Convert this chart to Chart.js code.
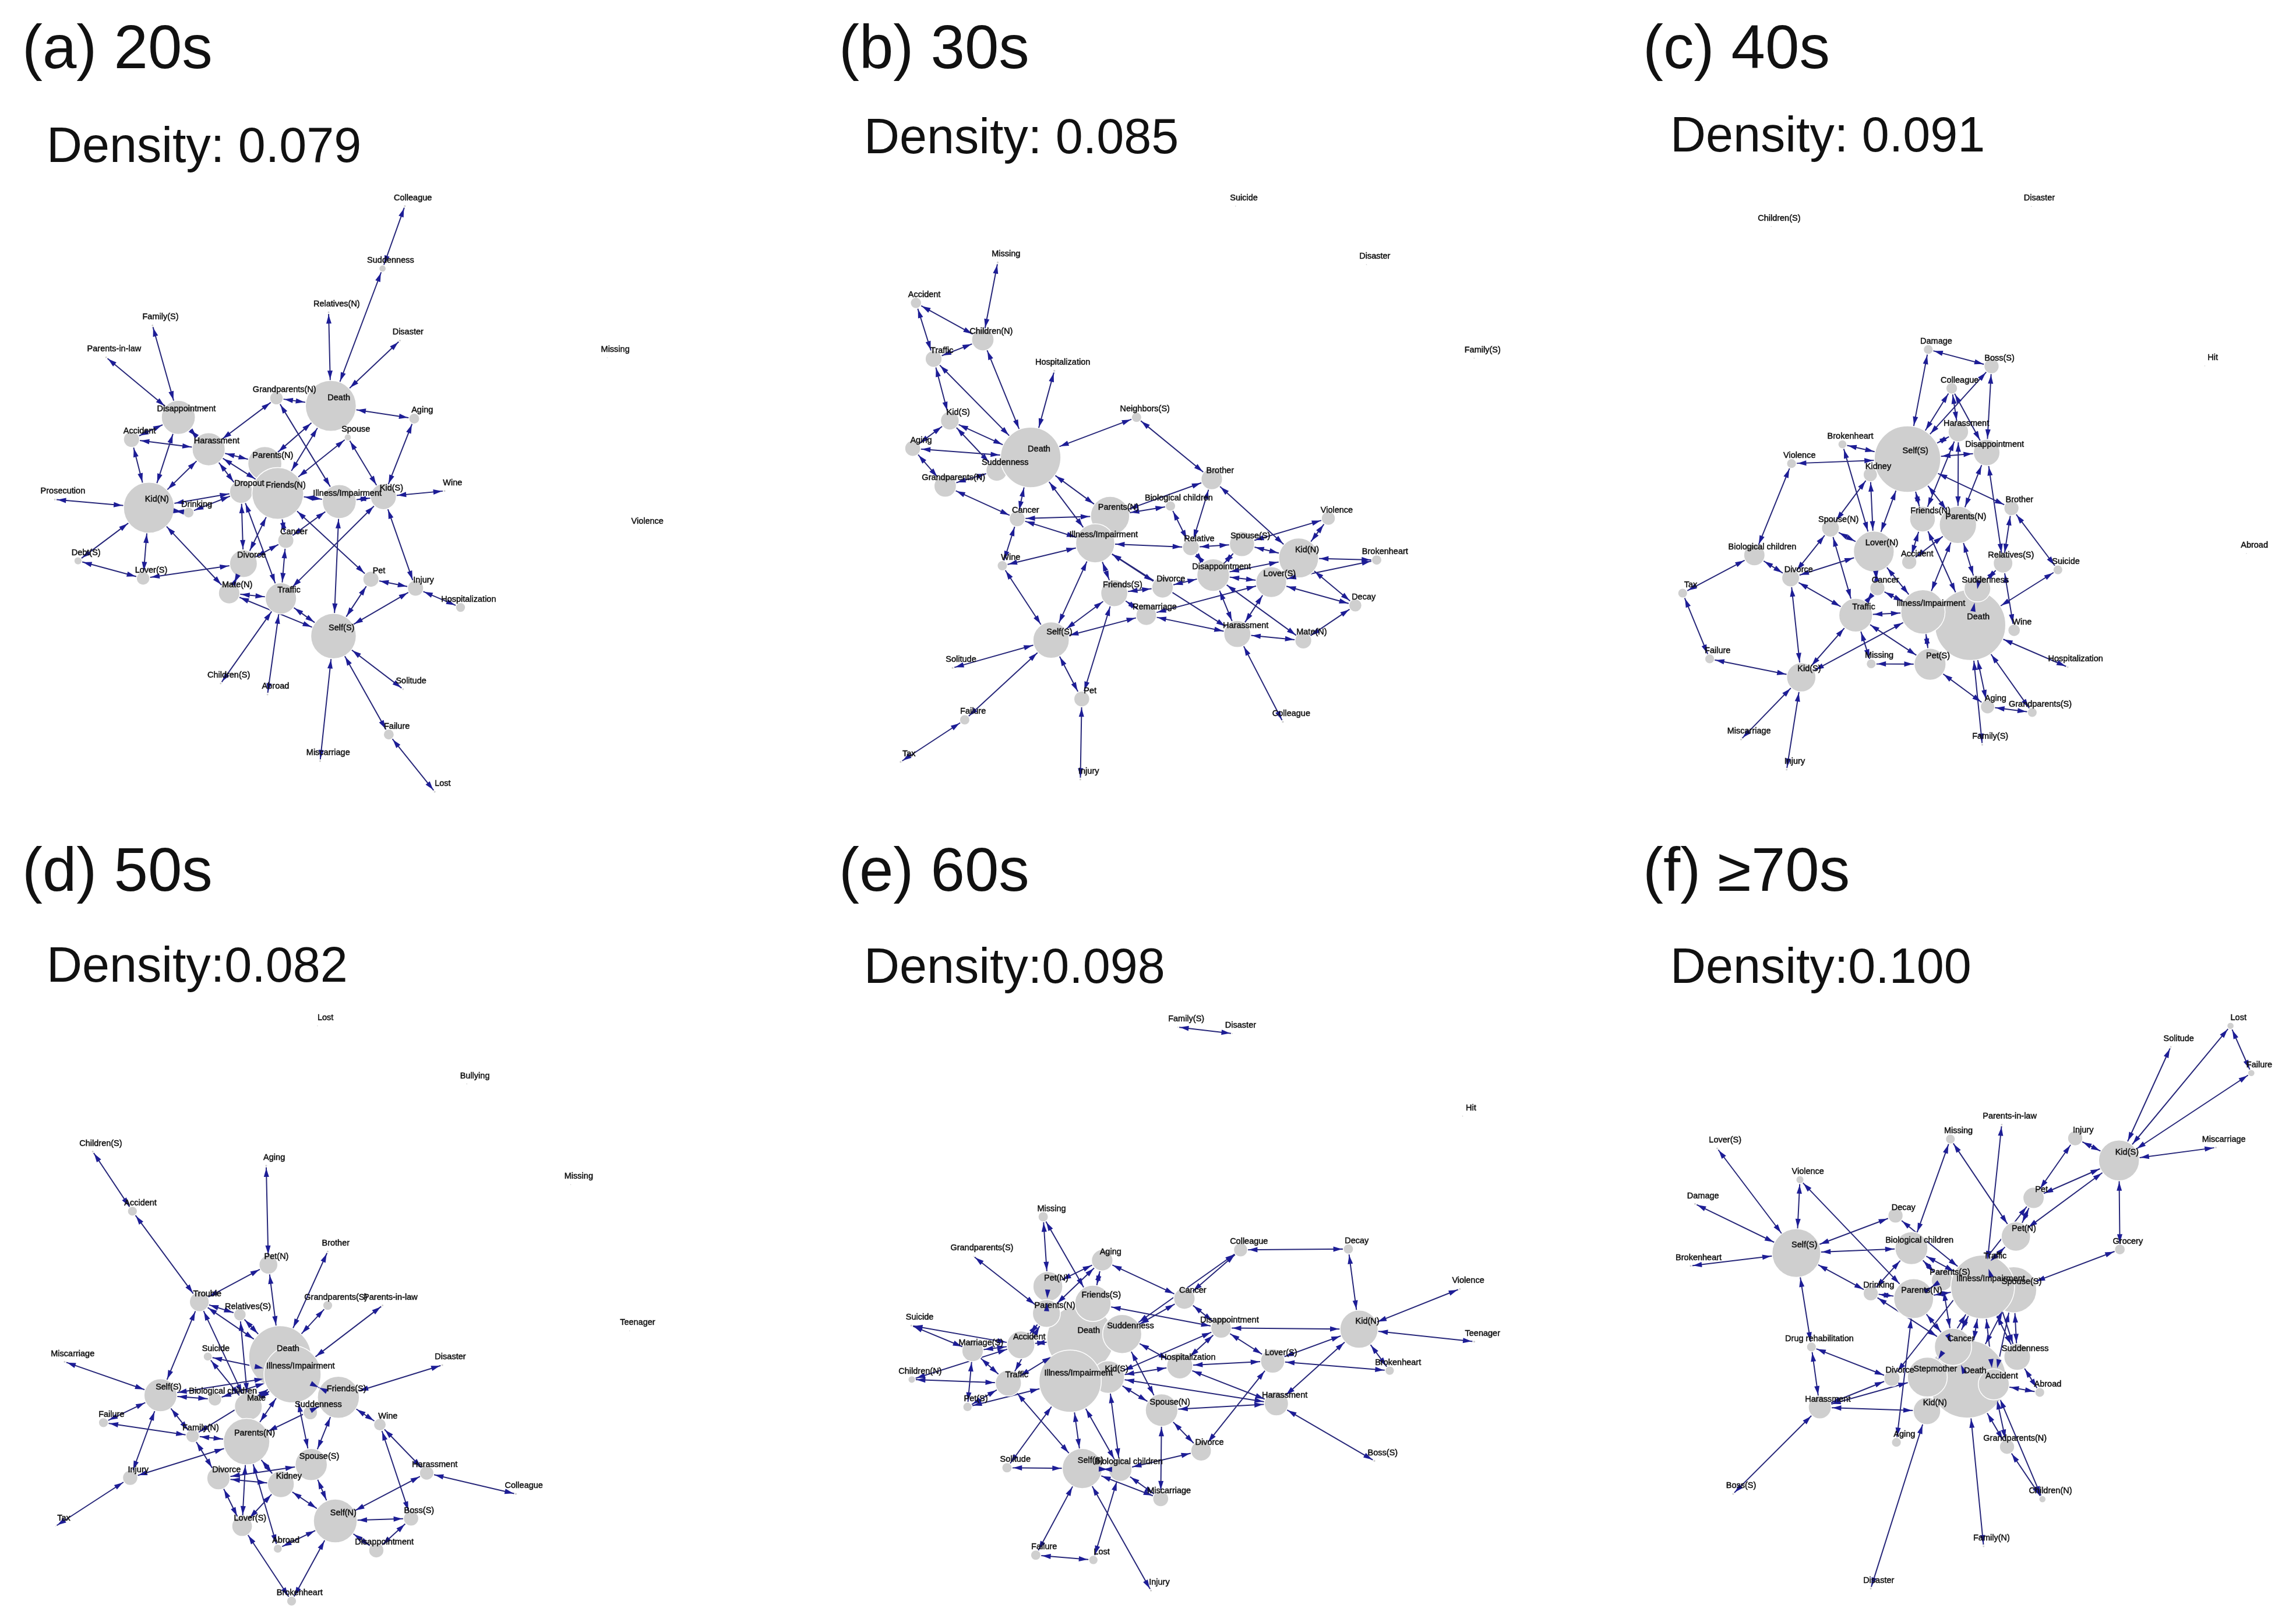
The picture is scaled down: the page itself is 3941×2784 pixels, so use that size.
<!DOCTYPE html>
<html>
<head>
<meta charset="utf-8">
<script src="https://cdn.jsdelivr.net/npm/chart.js@4"></script>
<style>
  body { margin: 0; background: #fff; width: 3941px; height: 2784px; position: relative; overflow: hidden; }
  canvas { position: absolute; }
  .txt { position: absolute; font-family: "Liberation Sans", Arial, sans-serif; color: #111; line-height: 1; white-space: nowrap; }
</style>
</head>
<body>
<script>
// ---- text ----
const panelTitles = ["(a) 20s", "(b) 30s", "(c) 40s", "(d) 50s", "(e) 60s", "(f) ≥70s"];
const densityLabels = ["Density: 0.079", "Density: 0.085", "Density: 0.091", "Density:0.082", "Density:0.098", "Density:0.100"];

// ---- networks: [label, layout x, layout y, node weight] ----
const nodesA = [
  ["Colleague",908,105,3],["Suddenness",858,258,8],["Relatives(N)",737,365,3],["Disaster",897,434,3],["Family(S)",342,397,3],
  ["Parents-in-law",238,475,3],["Grandparents(N)",620,575,15],["Death",742,594,57],["Aging",929,625,12],["Spouse",780,671,8],
  ["Disappointment",400,622,38],["Accident",295,676,18],["Harassment",468,700,37],["Parents(N)",594,735,38],["Dropout",541,804,26],
  ["Friends(N)",623,808,58],["Illness/Impairment",761,828,38],["Kid(S)",860,816,29],["Wine",997,802,3],["Kid(N)",334,843,57],
  ["Drinking",423,855,12],["Prosecution",123,823,3],["Cancer",641,923,18],["Debt(S)",175,973,9],["Divorce",546,980,31],
  ["Lover(S)",321,1016,15],["Mate(N)",514,1052,24],["Traffic",630,1065,35],["Pet",832,1018,18],["Injury",932,1040,18],
  ["Hospitalization",1033,1087,11],["Self(S)",748,1157,51],["Children(S)",495,1273,3],["Abroad",600,1300,3],["Solitude",904,1287,3],
  ["Failure",872,1398,12],["Miscarriage",718,1463,3],["Lost",975,1538,3],["Missing",1362,476,2],["Violence",1434,896,2]
];
const edgesA = [
  ["Colleague","Suddenness"],["Suddenness","Death"],["Relatives(N)","Death"],["Disaster","Death"],["Family(S)","Disappointment"],
  ["Parents-in-law","Disappointment"],["Grandparents(N)","Death"],["Grandparents(N)","Harassment"],["Grandparents(N)","Illness/Impairment"],
  ["Aging","Death"],["Aging","Kid(S)"],["Spouse","Kid(S)"],["Spouse","Friends(N)"],["Disappointment","Accident"],["Disappointment","Harassment"],
  ["Disappointment","Kid(N)"],["Accident","Harassment"],["Accident","Kid(N)"],["Harassment","Kid(N)"],["Harassment","Parents(N)"],
  ["Harassment","Friends(N)"],["Harassment","Dropout"],["Parents(N)","Death"],["Friends(N)","Death"],["Friends(N)","Illness/Impairment"],
  ["Illness/Impairment","Kid(S)"],["Friends(N)","Divorce"],["Friends(N)","Pet"],["Friends(N)","Cancer"],["Dropout","Kid(N)"],["Dropout","Divorce"],
  ["Dropout","Traffic"],["Drinking","Kid(N)"],["Drinking","Dropout"],["Kid(N)","Prosecution"],["Kid(N)","Debt(S)"],["Kid(N)","Lover(S)"],
  ["Kid(N)","Mate(N)"],["Lover(S)","Debt(S)"],["Lover(S)","Divorce"],["Divorce","Cancer"],["Cancer","Illness/Impairment"],["Cancer","Traffic"],
  ["Traffic","Kid(S)"],["Illness/Impairment","Self(S)"],["Kid(S)","Wine"],["Kid(S)","Injury"],["Injury","Pet"],["Injury","Self(S)"],
  ["Injury","Hospitalization"],["Pet","Self(S)"],["Traffic","Self(S)"],["Mate(N)","Self(S)"],["Traffic","Children(S)"],["Traffic","Abroad"],
  ["Self(S)","Solitude"],["Self(S)","Failure"],["Self(S)","Miscarriage"],["Failure","Lost"],["Mate(N)","Divorce"],["Mate(N)","Traffic"]
];

const nodesB = [
  ["Suicide",904,105,2],["Missing",392,243,3],["Disaster",1186,248,2],["Family(S)",1418,477,2],["Accident",216,342,12],["Children(N)",360,432,24],
  ["Traffic",254,479,18],["Hospitalization",514,508,3],["Neighbors(S)",691,622,11],["Kid(S)",289,630,20],["Aging",209,698,17],["Suddenness",390,752,23],
  ["Death",463,720,65],["Grandparents(N)",279,790,24],["Brother",853,773,23],["Biological children",764,839,11],["Parents(N)",634,863,42],
  ["Cancer",434,870,17],["Illness/Impairment",602,930,42],["Relative",808,940,18],["Spouse(S)",918,932,27],["Kid(N)",1040,966,43],["Violence",1104,869,15],
  ["Brokenheart",1208,971,11],["Wine",402,985,11],["Lover(S)",981,1025,33],["Disappointment",856,1008,35],["Divorce",747,1038,23],["Friends(S)",643,1052,29],
  ["Decay",1162,1082,14],["Remarriage",712,1106,22],["Harassment",908,1152,29],["Mate(N)",1050,1168,18],["Self(S)",507,1167,39],["Solitude",295,1235,3],
  ["Failure",321,1362,11],["Pet",573,1311,17],["Colleague",1006,1367,3],["Tax",183,1465,3],["Injury",570,1508,3]
];
const edgesB = [
  ["Missing","Children(N)"],["Accident","Children(N)"],["Accident","Traffic"],["Traffic","Children(N)"],["Traffic","Kid(S)"],["Traffic","Death"],
  ["Children(N)","Death"],["Hospitalization","Death"],["Neighbors(S)","Death"],["Neighbors(S)","Brother"],["Kid(S)","Aging"],["Kid(S)","Death"],
  ["Kid(S)","Suddenness"],["Aging","Death"],["Aging","Grandparents(N)"],["Grandparents(N)","Suddenness"],["Grandparents(N)","Cancer"],["Death","Cancer"],
  ["Death","Parents(N)"],["Death","Illness/Impairment"],["Brother","Parents(N)"],["Brother","Relative"],["Brother","Kid(N)"],["Cancer","Illness/Impairment"],
  ["Cancer","Parents(N)"],["Cancer","Wine"],["Wine","Illness/Impairment"],["Wine","Self(S)"],["Parents(N)","Biological children"],["Illness/Impairment","Relative"],
  ["Relative","Biological children"],["Relative","Spouse(S)"],["Relative","Disappointment"],["Spouse(S)","Kid(N)"],["Spouse(S)","Disappointment"],["Spouse(S)","Violence"],
  ["Kid(N)","Violence"],["Kid(N)","Brokenheart"],["Kid(N)","Decay"],["Kid(N)","Disappointment"],["Lover(S)","Brokenheart"],["Lover(S)","Decay"],
  ["Lover(S)","Disappointment"],["Lover(S)","Harassment"],["Lover(S)","Remarriage"],["Illness/Impairment","Divorce"],["Illness/Impairment","Friends(S)"],
  ["Illness/Impairment","Self(S)"],["Illness/Impairment","Harassment"],["Divorce","Disappointment"],["Divorce","Friends(S)"],["Friends(S)","Remarriage"],
  ["Friends(S)","Self(S)"],["Friends(S)","Pet"],["Remarriage","Self(S)"],["Remarriage","Harassment"],["Disappointment","Harassment"],["Disappointment","Mate(N)"],
  ["Harassment","Mate(N)"],["Mate(N)","Decay"],["Self(S)","Solitude"],["Self(S)","Failure"],["Self(S)","Pet"],["Failure","Tax"],["Pet","Injury"],["Harassment","Colleague"]
];

const nodesC = [
  ["Disaster",970,106,2],["Children(S)",382,155,2],["Damage",737,456,11],["Boss(S)",880,497,17],["Hit",1362,496,2],["Colleague",790,551,13],
  ["Harassment",805,657,23],["Disappointment",869,708,30],["Brokenheart",543,688,10],["Kidney",606,762,16],["Self(S)",690,724,75],["Violence",428,735,11],
  ["Brother",925,844,17],["Friends(N)",724,871,29],["Parents(N)",804,885,42],["Spouse(N)",516,893,20],["Lover(N)",614,950,46],["Biological children",344,959,24],
  ["Accident",694,976,17],["Relatives(S)",906,979,22],["Suicide",1030,995,11],["Abroad",1456,955,2],["Divorce",426,1015,20],["Tax",182,1052,11],["Cancer",622,1040,17],
  ["Death",832,1130,80],["Suddenness",848,1041,30],["Illness/Impairment",725,1098,50],["Traffic",573,1106,38],["Wine",931,1143,14],["Failure",243,1213,11],
  ["Pet(S)",741,1226,36],["Missing",608,1225,11],["Kid(S)",450,1258,33],["Hospitalization",1052,1233,3],["Aging",871,1330,16],["Grandparents(S)",972,1344,11],
  ["Miscarriage",314,1410,3],["Family(S)",859,1423,3],["Injury",417,1484,3]
];
const edgesC = [
  ["Damage","Boss(S)"],["Damage","Self(S)"],["Boss(S)","Disappointment"],["Boss(S)","Self(S)"],["Colleague","Self(S)"],["Colleague","Harassment"],
  ["Colleague","Disappointment"],["Harassment","Self(S)"],["Harassment","Friends(N)"],["Harassment","Parents(N)"],["Disappointment","Self(S)"],
  ["Disappointment","Parents(N)"],["Disappointment","Relatives(S)"],["Brokenheart","Self(S)"],["Brokenheart","Lover(N)"],["Violence","Self(S)"],
  ["Violence","Biological children"],["Kidney","Lover(N)"],["Kidney","Spouse(N)"],["Self(S)","Brother"],["Self(S)","Friends(N)"],["Self(S)","Parents(N)"],
  ["Self(S)","Lover(N)"],["Brother","Relatives(S)"],["Brother","Suicide"],["Friends(N)","Accident"],["Friends(N)","Death"],["Parents(N)","Accident"],
  ["Parents(N)","Suddenness"],["Parents(N)","Illness/Impairment"],["Spouse(N)","Lover(N)"],["Spouse(N)","Divorce"],["Spouse(N)","Traffic"],["Lover(N)","Divorce"],
  ["Lover(N)","Cancer"],["Lover(N)","Illness/Impairment"],["Biological children","Divorce"],["Biological children","Tax"],["Relatives(S)","Suddenness"],
  ["Relatives(S)","Wine"],["Suicide","Death"],["Divorce","Traffic"],["Divorce","Kid(S)"],["Tax","Failure"],["Cancer","Illness/Impairment"],["Cancer","Traffic"],
  ["Traffic","Illness/Impairment"],["Traffic","Pet(S)"],["Traffic","Kid(S)"],["Traffic","Missing"],["Illness/Impairment","Kid(S)"],["Illness/Impairment","Pet(S)"],
  ["Failure","Kid(S)"],["Missing","Pet(S)"],["Pet(S)","Aging"],["Kid(S)","Miscarriage"],["Kid(S)","Injury"],["Death","Hospitalization"],["Death","Aging"],
  ["Death","Grandparents(S)"],["Death","Family(S)"],["Aging","Grandparents(S)"],["Suddenness","Death"]
];

const nodesD = [
  ["Lost",712,88,2],["Bullying",1047,232,2],["Missing",1280,482,2],["Teenager",1412,845,2],["Children(S)",208,400,3],["Aging",597,435,3],["Accident",297,548,11],
  ["Pet(N)",602,681,21],["Brother",735,648,3],["Grandparents(S)",735,782,11],["Parents-in-law",858,782,3],["Trouble",447,773,22],["Relatives(S)",538,805,14],
  ["Suicide",466,909,10],["Death",628,910,70],["Illness/Impairment",656,953,64],["Miscarriage",145,922,3],["Disaster",992,930,3],["Self(S)",360,1005,37],
  ["Biological children",482,1015,15],["Mate",557,1033,31],["Suddenness",696,1048,16],["Friends(S)",759,1010,47],["Failure",232,1073,11],["Wine",852,1078,14],
  ["Family(N)",432,1106,15],["Parents(N)",553,1120,52],["Injury",292,1210,17],["Spouse(S)",698,1177,36],["Divorce",490,1211,26],["Kidney",630,1226,30],
  ["Harassment",957,1198,16],["Colleague",1157,1250,3],["Boss(S)",922,1311,17],["Self(N)",752,1317,49],["Lover(S)",543,1330,23],["Abroad",623,1386,10],
  ["Disappointment",844,1390,17],["Tax",125,1330,2],["Brokenheart",654,1516,11]
];
const edgesD = [
  ["Children(S)","Accident"],["Accident","Trouble"],["Aging","Pet(N)"],["Pet(N)","Death"],["Pet(N)","Trouble"],["Brother","Death"],["Grandparents(S)","Death"],
  ["Parents-in-law","Illness/Impairment"],["Trouble","Relatives(S)"],["Trouble","Death"],["Trouble","Self(S)"],["Trouble","Mate"],["Relatives(S)","Death"],
  ["Relatives(S)","Mate"],["Suicide","Mate"],["Suicide","Illness/Impairment"],["Miscarriage","Self(S)"],["Disaster","Friends(S)"],["Self(S)","Biological children"],
  ["Self(S)","Illness/Impairment"],["Self(S)","Failure"],["Self(S)","Family(N)"],["Self(S)","Injury"],["Biological children","Illness/Impairment"],
  ["Mate","Illness/Impairment"],["Illness/Impairment","Parents(N)"],["Illness/Impairment","Spouse(S)"],["Illness/Impairment","Friends(S)"],["Friends(S)","Wine"],
  ["Friends(S)","Spouse(S)"],["Friends(S)","Parents(N)"],["Failure","Family(N)"],["Family(N)","Illness/Impairment"],["Family(N)","Parents(N)"],["Family(N)","Divorce"],
  ["Parents(N)","Injury"],["Parents(N)","Kidney"],["Parents(N)","Lover(S)"],["Parents(N)","Abroad"],["Wine","Harassment"],["Wine","Boss(S)"],["Harassment","Colleague"],
  ["Harassment","Self(N)"],["Injury","Tax"],["Divorce","Kidney"],["Divorce","Spouse(S)"],["Divorce","Lover(S)"],["Kidney","Self(N)"],["Kidney","Lover(S)"],
  ["Spouse(S)","Self(N)"],["Boss(S)","Self(N)"],["Boss(S)","Disappointment"],["Self(N)","Disappointment"],["Self(N)","Abroad"],["Self(N)","Brokenheart"],["Lover(S)","Brokenheart"]
];

const nodesE = [
  ["Family(S)",780,91,2],["Disaster",897,107,2],["Hit",1393,312,2],["Missing",490,562,11],["Colleague",915,644,15],["Decay",1147,642,11],["Grandparents(S)",340,660,2],
  ["Aging",617,670,23],["Pet(N)",500,735,32],["Cancer",794,765,23],["Death",570,865,72],["Parents(N)",497,802,30],["Friends(S)",597,777,39],["Violence",1387,741,3],
  ["Disappointment",873,838,22],["Suddenness",660,853,42],["Kid(N)",1170,841,41],["Suicide",206,832,3],["Marriage(S)",338,895,23],["Accident",442,880,30],
  ["Teenager",1418,872,3],["Hospitalization",784,932,28],["Lover(S)",984,920,26],["Brokenheart",1236,944,10],["Children(N)",207,966,8],["Traffic",415,975,28],
  ["Kid(S)",630,960,35],["Illness/Impairment",548,970,67],["Harassment",992,1026,26],["Pet(S)",327,1034,10],["Spouse(N)",745,1042,35],["Divorce",830,1143,22],
  ["Boss(S)",1203,1168,3],["Solitude",412,1185,11],["Self(S)",574,1187,43],["Biological children",656,1190,25],["Miscarriage",743,1262,17],["Failure",474,1402,11],
  ["Lost",598,1414,10],["Injury",722,1490,3]
];
const edgesE = [
  ["Family(S)","Disaster"],["Missing","Pet(N)"],["Missing","Friends(S)"],["Colleague","Decay"],["Colleague","Cancer"],["Colleague","Suddenness"],["Decay","Kid(N)"],
  ["Grandparents(S)","Parents(N)"],["Aging","Pet(N)"],["Aging","Parents(N)"],["Aging","Friends(S)"],["Aging","Cancer"],["Pet(N)","Parents(N)"],["Cancer","Disappointment"],
  ["Cancer","Suddenness"],["Disappointment","Friends(S)"],["Disappointment","Kid(N)"],["Disappointment","Lover(S)"],["Disappointment","Hospitalization"],["Disappointment","Kid(S)"],
  ["Parents(N)","Accident"],["Parents(N)","Traffic"],["Death","Accident"],["Death","Traffic"],["Suicide","Marriage(S)"],["Suicide","Accident"],["Marriage(S)","Accident"],
  ["Marriage(S)","Pet(S)"],["Marriage(S)","Traffic"],["Children(N)","Accident"],["Children(N)","Traffic"],["Traffic","Pet(S)"],["Pet(S)","Illness/Impairment"],["Traffic","Self(S)"],
  ["Illness/Impairment","Solitude"],["Illness/Impairment","Self(S)"],["Illness/Impairment","Biological children"],["Kid(S)","Hospitalization"],["Kid(S)","Harassment"],
  ["Kid(S)","Spouse(N)"],["Kid(S)","Biological children"],["Suddenness","Hospitalization"],["Suddenness","Spouse(N)"],["Hospitalization","Lover(S)"],["Hospitalization","Harassment"],
  ["Spouse(N)","Harassment"],["Spouse(N)","Divorce"],["Spouse(N)","Miscarriage"],["Kid(N)","Violence"],["Kid(N)","Teenager"],["Kid(N)","Brokenheart"],["Kid(N)","Lover(S)"],
  ["Kid(N)","Harassment"],["Lover(S)","Brokenheart"],["Lover(S)","Divorce"],["Harassment","Boss(S)"],["Self(S)","Solitude"],["Self(S)","Biological children"],["Self(S)","Failure"],
  ["Self(S)","Injury"],["Self(S)","Miscarriage"],["Biological children","Miscarriage"],["Biological children","Divorce"],["Biological children","Lost"],["Failure","Lost"]
];

const nodesF = [
  ["Lost",1420,88,8],["Solitude",1285,140,3],["Failure",1467,205,8],["Parents-in-law",903,333,3],["Missing",787,369,11],["Injury",1069,367,17],["Miscarriage",1387,390,3],
  ["Lover(S)",260,392,3],["Kid(S)",1168,422,46],["Violence",447,470,9],["Damage",210,530,3],["Decay",663,559,17],["Pet",975,515,24],["Pet(N)",935,611,33],["Self(S)",439,652,55],
  ["Biological children",699,640,37],["Brokenheart",200,684,3],["Grocery",1170,643,12],["Traffic",870,680,8],["Parents(S)",768,720,24],["Spouse(S)",930,743,52],
  ["Illness/Impairment",860,736,72],["Drinking",607,752,17],["Parents(N)",704,765,45],["Death",825,965,88],["Cancer",793,885,42],["Suddenness",938,910,30],
  ["Drug rehabilitation",473,885,11],["Divorce",655,963,18],["Stepmother",735,960,45],["Accident",885,978,35],["Abroad",989,998,11],["Harassment",492,1035,26],
  ["Kid(N)",734,1044,31],["Aging",665,1122,11],["Grandparents(N)",915,1133,17],["Boss(S)",296,1250,3],["Children(N)",995,1263,8],["Family(N)",862,1380,3],["Disaster2",607,1485,3]
];
const edgesF = [
  ["Lost","Kid(S)"],["Lost","Failure"],["Solitude","Kid(S)"],["Failure","Kid(S)"],["Parents-in-law","Traffic"],["Missing","Biological children"],["Missing","Pet(N)"],
  ["Injury","Kid(S)"],["Injury","Pet"],["Miscarriage","Kid(S)"],["Lover(S)","Self(S)"],["Violence","Self(S)"],["Violence","Parents(N)"],["Damage","Self(S)"],["Decay","Self(S)"],
  ["Decay","Illness/Impairment"],["Pet","Kid(S)"],["Pet","Pet(N)"],["Pet(N)","Kid(S)"],["Pet(N)","Traffic"],["Self(S)","Brokenheart"],["Self(S)","Biological children"],
  ["Self(S)","Drinking"],["Self(S)","Drug rehabilitation"],["Biological children","Drinking"],["Biological children","Parents(S)"],["Biological children","Illness/Impairment"],
  ["Kid(S)","Grocery"],["Grocery","Spouse(S)"],["Drinking","Parents(N)"],["Parents(S)","Parents(N)"],["Parents(N)","Illness/Impairment"],["Parents(N)","Cancer"],
  ["Parents(N)","Aging"],["Illness/Impairment","Cancer"],["Illness/Impairment","Suddenness"],["Illness/Impairment","Death"],["Spouse(S)","Suddenness"],["Cancer","Death"],
  ["Spouse(S)","Death"],["Accident","Illness/Impairment"],["Drug rehabilitation","Divorce"],["Drug rehabilitation","Harassment"],["Divorce","Harassment"],["Stepmother","Harassment"],
  ["Harassment","Kid(N)"],["Harassment","Boss(S)"],["Divorce","Pet"],["Kid(N)","Disaster2"],["Accident","Abroad"],["Accident","Children(N)"],["Accident","Grandparents(N)"],
  ["Abroad","Suddenness"],["Children(N)","Grandparents(N)"],["Death","Family(N)"],["Death","Grandparents(N)"],
  ["Drinking","Cancer"],["Parents(S)","Cancer"],["Suddenness","Traffic"],["Accident","Spouse(S)"],["Stepmother","Illness/Impairment"]
];

const networks = [[nodesA, edgesA], [nodesB, edgesB], [nodesC, edgesC], [nodesD, edgesD], [nodesE, edgesE], [nodesF, edgesF]];

// where each panel sits on the page, [left, top, width, height]
const panelBoxes = [[0,280,1200,1100],[1400,280,1250,1100],[2750,280,1191,1100],[0,1700,1200,1084],[1400,1700,1250,1084],[2750,1700,1191,1084]];
const titlePos = [[38,28],[1440,28],[2820,28],[38,1440],[1440,1440],[2820,1440]];
const densityPos = [[80,207],[1483,192],[2867,189],[80,1614],[1483,1616],[2867,1616]];

const LAYOUT_SIZE = 1568;

function addText(str, pos, size){
    const d = document.createElement("div");
    d.className = "txt";
    d.style.left = pos[0] + "px";
    d.style.top = pos[1] + "px";
    d.style.fontSize = size + "px";
    d.textContent = str;
    document.body.appendChild(d);
}

// arrowheads and node labels, placed through the chart's scales
const networkDecor = {
    id: "networkDecor",
    afterDatasetsDraw(chart, args, opts){
        const ctx = chart.ctx, sx = chart.scales.x, sy = chart.scales.y;
        const rad = n => sx.getPixelForValue(n[3]) - sx.getPixelForValue(0);
        const head = (from, to) => {
            const x0 = sx.getPixelForValue(from[1]), y0 = sy.getPixelForValue(from[2]);
            const x1 = sx.getPixelForValue(to[1]), y1 = sy.getPixelForValue(to[2]);
            const len = Math.hypot(x1 - x0, y1 - y0) || 1;
            const ux = (x1 - x0) / len, uy = (y1 - y0) / len;
            const tx = x1 - ux * (rad(to) + 2), ty = y1 - uy * (rad(to) + 2);
            ctx.beginPath();
            ctx.moveTo(tx, ty);
            ctx.lineTo(tx - ux * 15 - uy * 4.5, ty - uy * 15 + ux * 4.5);
            ctx.lineTo(tx - ux * 15 + uy * 4.5, ty - uy * 15 - ux * 4.5);
            ctx.closePath();
            ctx.fill();
        };
        ctx.save();
        ctx.fillStyle = "#1d1d96";
        opts.links.forEach(l => { head(l[0], l[1]); head(l[1], l[0]); });
        ctx.fillStyle = "#111";
        ctx.strokeStyle = "#111";
        ctx.lineWidth = 0.5;
        ctx.font = "14.5px 'Liberation Sans'";
        ctx.textAlign = "center";
        ctx.textBaseline = "middle";
        opts.nodes.forEach(n => {
            const name = n[0].replace(/\d$/, "");
            const px = sx.getPixelForValue(n[1] + 18), py = sy.getPixelForValue(n[2] - 20);
            ctx.fillText(name, px, py);
            ctx.strokeText(name, px, py);
        });
        ctx.restore();
    }
};

function drawPanel(nodes, edges, box){
    const canvas = document.createElement("canvas");
    canvas.width = box[2];
    canvas.height = box[3];
    canvas.style.left = box[0] + "px";
    canvas.style.top = box[1] + "px";
    document.body.appendChild(canvas);

    const byName = {};
    nodes.forEach(n => byName[n[0]] = n);
    const links = edges.map(e => {
        if(!byName[e[0]] || !byName[e[1]]) throw new Error("unknown node " + e);
        return [byName[e[0]], byName[e[1]]];
    });
    const linePts = [];
    links.forEach(l => {
        linePts.push({x: l[0][1], y: l[0][2]}, {x: l[1][1], y: l[1][2]}, {x: l[1][1], y: null});
    });

    new Chart(canvas, {
        type: "scatter",
        plugins: [networkDecor],
        data: {
            datasets: [
                {
                    data: nodes.map(n => ({x: n[1], y: n[2]})),
                    order: 1,
                    pointRadius: c => {
                        const s = c.chart.scales.x;
                        return s.getPixelForValue(nodes[c.dataIndex][3]) - s.getPixelForValue(0);
                    },
                    backgroundColor: "#cfcfcf",
                    borderColor: "#fff",
                    borderWidth: 1.5,
                    clip: false
                },
                {
                    data: linePts,
                    order: 2,
                    showLine: true,
                    spanGaps: false,
                    pointRadius: 0,
                    borderColor: "#27277a",
                    borderWidth: 2
                }
            ]
        },
        options: {
            responsive: false,
            animation: false,
            layout: {padding: 0},
            events: [],
            scales: {
                x: {type: "linear", min: 0, max: LAYOUT_SIZE, display: false},
                y: {type: "linear", min: 0, max: LAYOUT_SIZE, reverse: true, display: false}
            },
            plugins: {
                legend: {display: false},
                tooltip: {enabled: false},
                networkDecor: {nodes: nodes, links: links}
            }
        }
    });
}

networks.forEach((net, i) => {
    drawPanel(net[0], net[1], panelBoxes[i]);
    addText(panelTitles[i], titlePos[i], 105);
    addText(densityLabels[i], densityPos[i], 84.5);
});
</script>
</body>
</html>
